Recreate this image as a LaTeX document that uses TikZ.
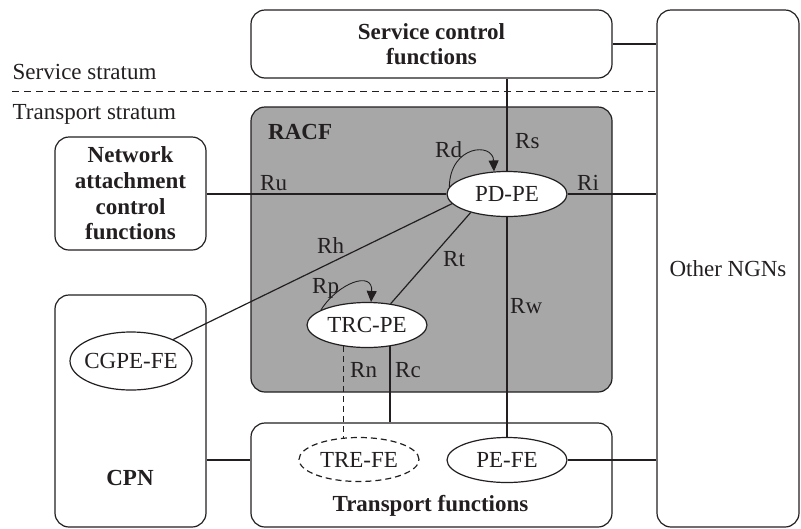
\documentclass[tikz,border=0pt]{standalone}
\usepackage{fontspec}
\setmainfont{Liberation Serif}
\usetikzlibrary{shapes.geometric,arrows.meta,calc}
\definecolor{ink}{RGB}{35,31,32}
\definecolor{racfgray}{RGB}{167,167,167}
\begin{document}
\begin{tikzpicture}[x=1pt,y=-1pt,
  every node/.style={font=\fontsize{23}{25.6}\selectfont, text=ink},
  bfont/.style={font=\fontsize{23}{25.6}\selectfont\bfseries},
  line/.style={draw=ink, line width=1.2pt},
  box/.style={draw=ink, line width=1.2pt, rounded corners=14pt, rectangle, inner sep=0pt},
  fe/.style={ellipse, draw=ink, line width=1.2pt, fill=white, inner sep=0pt, minimum width=120pt, minimum height=45pt},
  lbl/.style={anchor=base west, inner sep=0pt},
  selfloop/.style={draw=ink, line width=0.9pt, -{Triangle[length=11pt,width=10pt]}},
]
\useasboundingbox (0,0) rectangle (801,528);

% boxes
\node[box, fill=racfgray, minimum width=361pt, minimum height=285pt] (racf) at (431.5,249.5) {};
\node[lbl, bfont] (racft) at (268,139) {RACF};
\node[box, bfont, align=center, minimum width=361pt, minimum height=68pt] (scf) at (431.5,44) {Service control\\functions};
\node[box, minimum width=142pt, minimum height=517pt] (ongn) at (728,268.5) {Other NGNs};
\node[box, bfont, align=center, minimum width=151pt, minimum height=113pt] (nacf) at (130.5,193.5) {Network\\attachment\\control\\functions};
\node[box, minimum width=151pt, minimum height=232pt] (cpn) at (130.5,411) {};
\node[anchor=base, bfont, inner sep=0pt] (cpnt) at (130,485) {CPN};
\node[box, minimum width=361pt, minimum height=104pt] (tf) at (431.5,475) {};
\node[anchor=base, bfont, inner sep=0pt] (tft) at (430.5,511.5) {Transport functions};

% strata
\node[lbl] (ss) at (12.5,79) {Service stratum};
\node[lbl] (ts) at (12.5,119) {Transport stratum};
\coordinate (dl) at (12,91.5);
\draw[line, dash pattern=on 7pt off 5pt] (dl) -- (dl -| ongn.west);

% functional entities
\node[fe] (pdpe) at (507,194) {PD-PE};
\node[fe] (trcpe) at (367,325) {TRC-PE};
\node[fe, minimum width=122pt, minimum height=58pt, label={center:CGPE-FE}] (cgpe) at (131,361) {};
\node[fe, dash pattern=on 6pt off 4pt, minimum height=44pt] (trefe) at (359,459.5) {TRE-FE};
\node[fe] (pefe) at (507,460) {PE-FE};

% connectors
\draw[line] (scf.east) -- (scf.east -| ongn.west);
\draw[line] (pdpe.north) -- (pdpe.north |- scf.south);
\draw[line] (pdpe.south) -- (pefe.north);
\draw[line] (pdpe.west) -- (pdpe.west -| nacf.east);
\draw[line] (pdpe.east) -- (pdpe.east -| ongn.west);
\draw[line] (pdpe.190) -- (cgpe.27);
\draw[line] (pdpe.207) -- (trcpe.42);
\draw[line, dash pattern=on 6pt off 4pt] (trcpe.222) -- (trcpe.222 |- trefe.125);
\draw[line] (trcpe.-43) -- (trcpe.-43 |- tf.north);
\draw[line] (pefe.west -| cpn.east) -- (pefe.west -| tf.west);
\draw[line] (pefe.east) -- (pefe.east -| ongn.west);

% self loops
\draw[selfloop] (pdpe.173) .. controls (450,145) and (493,142) .. (pdpe.120);
\draw[selfloop] (trcpe.162) .. controls (338,283) and (373,270) .. (trcpe.80);

% reference point labels
\node[lbl] (rd) at (435,157) {Rd};
\node[lbl] (rs) at (515,148) {Rs};
\node[lbl] (ri) at (577,190) {Ri};
\node[lbl] (ru) at (260,190.5) {Ru};
\node[lbl] (rh) at (317,253) {Rh};
\node[lbl] (rt) at (443,266.5) {Rt};
\node[lbl] (rw) at (510,313) {Rw};
\node[lbl] (rp) at (312,293) {Rp};
\node[lbl] (rn) at (350,377) {Rn};
\node[lbl] (rc) at (395,377) {Rc};
\end{tikzpicture}
\end{document}
